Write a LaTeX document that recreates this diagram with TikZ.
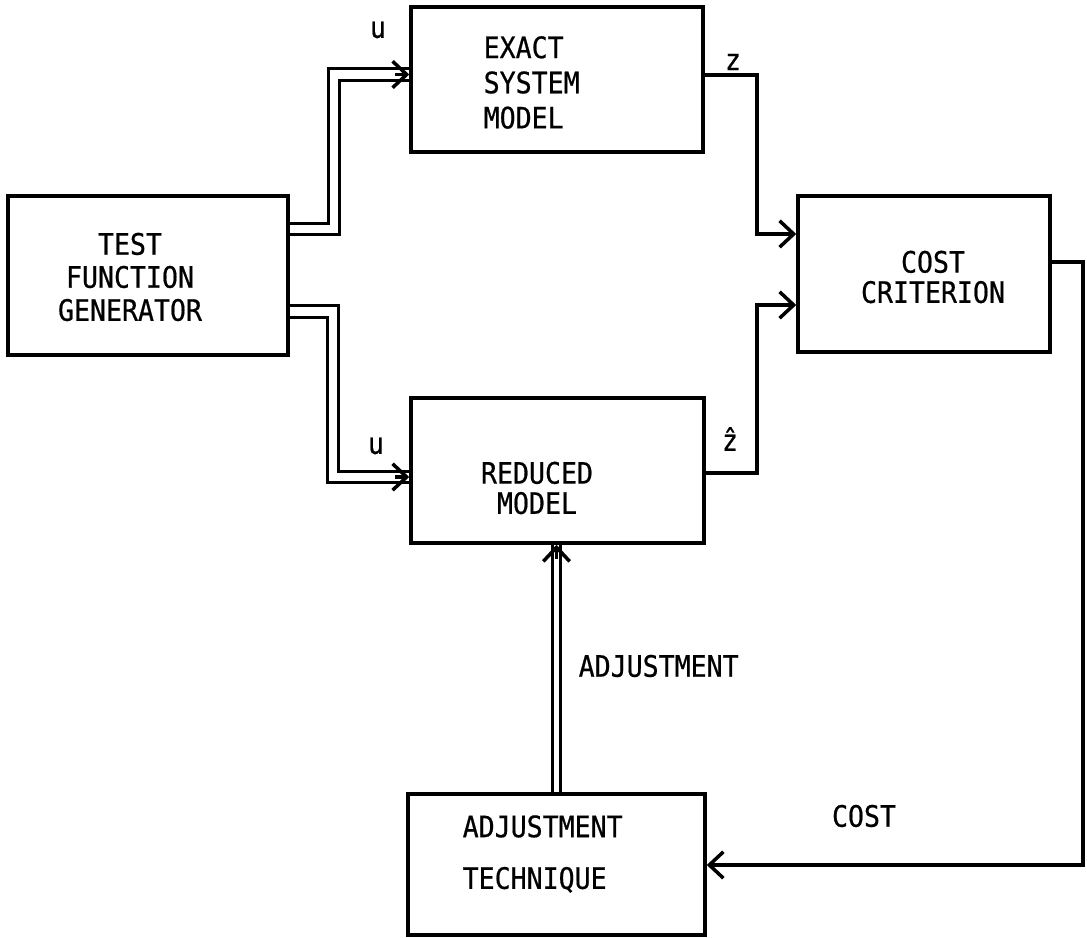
\documentclass[tikz,border=0pt]{standalone}
\usepackage{fontspec}
\setmainfont{DejaVu Sans Mono}[FakeStretch=0.9,FakeBold=0.6]
\usetikzlibrary{arrows.meta}
\tikzset{
  blk/.style={draw,line width=1pt,inner sep=0pt},
  txt/.style={font=\fontsize{8.4}{#1}\selectfont,inner sep=0pt},
  txt/.default=10,
  sig/.style={line width=1pt,-{Straight Barb[length=4pt,width=7.5pt]}},
  bus/.style={double,double distance=2.3pt,line width=.95pt},
  thinbus/.style={double,double distance=1.2pt,line width=.95pt},
}
\begin{document}
\begin{tikzpicture}
\useasboundingbox (0,0) rectangle (10.87,9.37);
% blocks
\node[blk,minimum width=2.8cm,minimum height=1.59cm] (gen) at (1.48,6.615) {};
\node[blk,minimum width=2.92cm,minimum height=1.45cm] (exact) at (5.57,8.575) {};
\node[blk,minimum width=2.52cm,minimum height=1.56cm] (cost) at (9.24,6.63) {};
\node[blk,minimum width=2.93cm,minimum height=1.45cm] (red) at (5.575,4.665) {};
\node[blk,minimum width=2.97cm,minimum height=1.41cm] (adj) at (5.565,0.725) {};
% block texts
\node[txt=9.4,align=center] (gen-t) at (1.30,6.60) {TEST\\FUNCTION\\GENERATOR};
\node[txt=10,align=left,anchor=west] (exact-t) at (4.83,8.545) {EXACT\\SYSTEM\\MODEL};
\node[txt=8.6,align=center] (cost-t) at (9.33,6.60) {COST\\CRITERION};
\node[txt=8.6,align=center] (red-t) at (5.37,4.49) {REDUCED\\MODEL};
\node[txt=14.7,align=left,anchor=west] (adj-t) at (4.62,0.83) {ADJUSTMENT\\TECHNIQUE};

% inputs u
\coordinate (u1) at (3.34,7.08);
\coordinate (u2) at (3.33,6.255);
\coordinate (exin) at ([yshift=.05cm]exact.west);
\coordinate (redin) at ([yshift=-.065cm]red.west);
\draw[bus] (gen.east |- u1) -- (u1) |- (exin);
\draw[bus] (gen.east |- u2) -- (u2) |- (redin);
\draw[sig] ([xshift=-4pt]exin) -- (exin);
\draw[sig] ([xshift=-4pt]redin) -- (redin);
\node[txt] (u-top) at (3.78,9.07) {u};
\node[txt] (u-bot) at (3.76,4.91) {u};

% outputs to cost criterion
\draw[sig] ([yshift=.045cm]exact.east) -- ++(.52,0) |- ([yshift=.40cm]cost.west);
\draw[sig] ([yshift=-.025cm]red.east) -- ++(.51,0) |- ([yshift=-.31cm]cost.west);
\node[txt] (z) at (7.33,8.75) {z};
\node[txt] (zhat) at (7.30,4.98) {\^{z}};

% adjustment
\coordinate (adjtip) at (adj.north |- red.south);
\draw[thinbus] (adj.north) -- (adjtip);
\draw[sig] ([yshift=-4pt]adjtip) -- (adjtip);
\node[txt,anchor=west] (adj-l) at (5.78,2.71) {ADJUSTMENT};

% cost feedback
\coordinate (fb) at (10.83,0.72);
\draw[sig] ([yshift=.12cm]cost.east) -| (fb) -- (adj.east |- fb);
\node[txt] (cost-l) at (8.64,1.21) {COST};
\end{tikzpicture}
\end{document}
